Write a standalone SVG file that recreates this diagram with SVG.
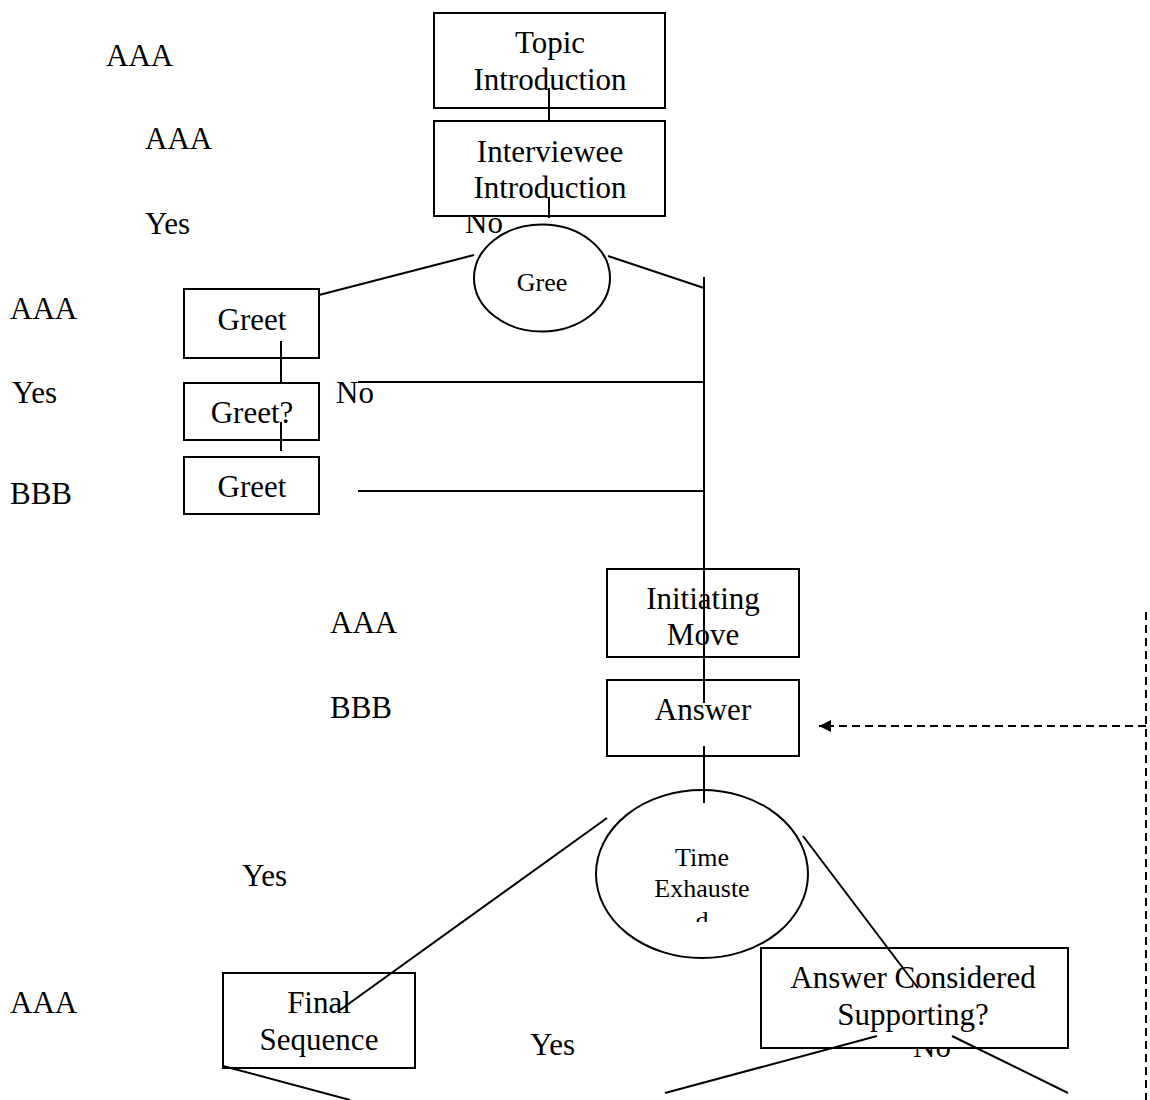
<svg xmlns="http://www.w3.org/2000/svg" width="1150" height="1100" viewBox="0 0 1150 1100">
<style>
text{font-family:"Liberation Serif","Times New Roman",serif;font-size:31px;fill:#000}
.c{text-anchor:middle}
.s{font-size:26px}
.box{fill:#fff;stroke:#000;stroke-width:2}
.ell{fill:#fff;stroke:#000;stroke-width:2}
.ln{stroke:#000;stroke-width:2;fill:none}
.dash{stroke:#000;stroke-width:2;fill:none;stroke-dasharray:8 5}
</style>
<defs>
<marker id="arr" viewBox="0 0 10 10" refX="10" refY="5" markerWidth="14" markerHeight="12" markerUnits="userSpaceOnUse" orient="auto">
<path d="M0,0 L10,5 L0,10 Z" fill="#000"/>
</marker>
<clipPath id="teclip"><rect x="590" y="780" width="230" height="142"/></clipPath>
</defs>
<rect width="1150" height="1100" fill="#fff"/>
<g id="labels">
<text x="106" y="66">AAA</text>
<text x="145" y="149">AAA</text>
<text x="145" y="234">Yes</text>
<text x="465" y="233">No</text>
<text x="10" y="319">AAA</text>
<text x="12" y="403">Yes</text>
<text x="336" y="403">No</text>
<text x="10" y="504">BBB</text>
<text x="330" y="633">AAA</text>
<text x="330" y="718">BBB</text>
<text x="242" y="886">Yes</text>
<text x="10" y="1013">AAA</text>
<text x="530" y="1055">Yes</text>
<text x="913" y="1057">No</text>
</g>
<g id="topic">
<rect class="box" x="434" y="13" width="231" height="95"/>
<text class="c" x="550" y="53">Topic</text>
<text class="c" x="550" y="90">Introduction</text>
</g>
<g id="interviewee">
<rect class="box" x="434" y="121" width="231" height="95"/>
<text class="c" x="550" y="162">Interviewee</text>
<text class="c" x="550" y="198">Introduction</text>
</g>
<g id="gree">
<ellipse class="ell" cx="542" cy="278" rx="68" ry="53.5"/>
<text class="c s" x="542" y="291">Gree</text>
</g>
<g id="greet1">
<rect class="box" x="184" y="289" width="135" height="69"/>
<text class="c" x="252" y="330">Greet</text>
</g>
<g id="greet2">
<rect class="box" x="184" y="383" width="135" height="57"/>
<text class="c" x="252" y="423">Greet?</text>
</g>
<g id="greet3">
<rect class="box" x="184" y="457" width="135" height="57"/>
<text class="c" x="252" y="497">Greet</text>
</g>
<g id="initiating">
<rect class="box" x="607" y="569" width="192" height="88"/>
<text class="c" x="703" y="609">Initiating</text>
<text class="c" x="703" y="645">Move</text>
</g>
<g id="answer">
<rect class="box" x="607" y="680" width="192" height="76"/>
<text class="c" x="703" y="720">Answer</text>
</g>
<g id="time">
<ellipse class="ell" cx="702" cy="874" rx="106" ry="84"/>
<g clip-path="url(#teclip)">
<text class="c s" x="702" y="866">Time</text>
<text class="c s" x="702" y="897">Exhauste</text>
<text class="c s" x="702" y="929">d</text>
</g>
</g>
<g id="final">
<rect class="box" x="223" y="973" width="192" height="95"/>
<text class="c" x="319" y="1013">Final</text>
<text class="c" x="319" y="1050">Sequence</text>
</g>
<g id="supporting">
<rect class="box" x="761" y="948" width="307" height="100"/>
<text class="c" x="913" y="988">Answer Considered</text>
<text class="c" x="913" y="1025">Supporting?</text>
</g>
<g id="connectors">
<line class="ln" x1="549" y1="88" x2="549" y2="121"/>
<line class="ln" x1="549" y1="197" x2="549" y2="218"/>
<line class="ln" x1="474" y1="255" x2="319" y2="295"/>
<line class="ln" x1="608" y1="256" x2="704" y2="288"/>
<line class="ln" x1="704" y1="277" x2="704" y2="703"/>
<line class="ln" x1="358" y1="382" x2="704" y2="382"/>
<line class="ln" x1="358" y1="491" x2="704" y2="491"/>
<line class="ln" x1="281" y1="341" x2="281" y2="383"/>
<line class="ln" x1="281" y1="422" x2="281" y2="451"/>
<line class="ln" x1="704" y1="746" x2="704" y2="803"/>
<line class="ln" x1="607" y1="818" x2="340" y2="1010"/>
<line class="ln" x1="803" y1="836" x2="918" y2="988"/>
<line class="ln" x1="223" y1="1066" x2="350" y2="1100"/>
<line class="ln" x1="877" y1="1036" x2="665" y2="1093"/>
<line class="ln" x1="952" y1="1036" x2="1068" y2="1093"/>
<line class="dash" x1="1146" y1="612" x2="1146" y2="1100"/>
<line class="dash" x1="1146" y1="726" x2="819" y2="726" marker-end="url(#arr)"/>
</g>
</svg>
